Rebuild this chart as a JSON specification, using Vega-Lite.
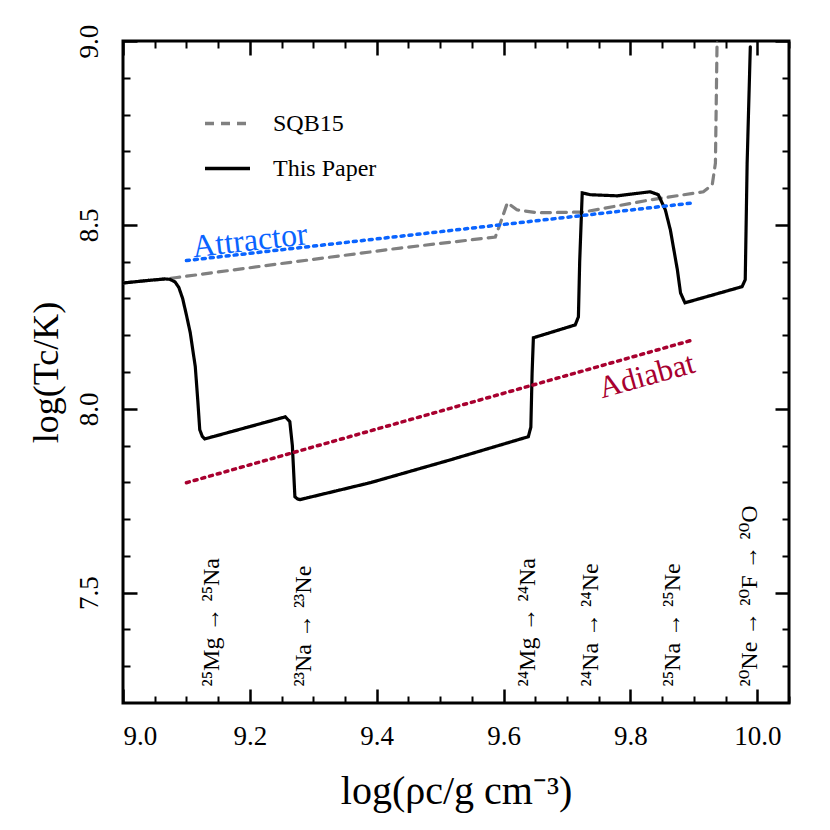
{
  "$schema": "https://vega.github.io/schema/vega-lite/v6.json",
  "width": 666,
  "height": 662,
  "autosize": {"type": "none"},
  "padding": {"left": 123, "top": 41, "right": 41, "bottom": 127},
  "background": "white",
  "config": {
    "view": {"stroke": "black", "strokeWidth": 3},
    "font": "Liberation Serif, serif",
    "text": {"font": "Liberation Serif, serif"},
    "legend": {"labelFont": "Liberation Serif, serif"},
    "axis": {
      "domain": false, "grid": false, "tickColor": "black", "labelColor": "black", "titleColor": "black",
      "labelFont": "Liberation Serif, serif", "titleFont": "Liberation Serif, serif", "titleFontWeight": "normal"
    }
  },
  "datasets": {
    "curves": [
      {"s": "SQB15", "x": 9.000, "y": 8.342},
      {"s": "SQB15", "x": 9.040, "y": 8.349},
      {"s": "SQB15", "x": 9.066, "y": 8.353},
      {"s": "SQB15", "x": 9.085, "y": 8.357},
      {"s": "SQB15", "x": 9.250, "y": 8.395},
      {"s": "SQB15", "x": 9.437, "y": 8.437},
      {"s": "SQB15", "x": 9.587, "y": 8.467},
      {"s": "SQB15", "x": 9.595, "y": 8.505},
      {"s": "SQB15", "x": 9.606, "y": 8.560},
      {"s": "SQB15", "x": 9.621, "y": 8.541},
      {"s": "SQB15", "x": 9.653, "y": 8.533},
      {"s": "SQB15", "x": 9.726, "y": 8.535},
      {"s": "SQB15", "x": 9.831, "y": 8.568},
      {"s": "SQB15", "x": 9.915, "y": 8.590},
      {"s": "SQB15", "x": 9.929, "y": 8.609},
      {"s": "SQB15", "x": 9.934, "y": 8.668},
      {"s": "SQB15", "x": 9.937, "y": 9.050},
      {"s": "This Paper", "x": 9.000, "y": 8.342},
      {"s": "This Paper", "x": 9.040, "y": 8.349},
      {"s": "This Paper", "x": 9.066, "y": 8.353},
      {"s": "This Paper", "x": 9.074, "y": 8.352},
      {"s": "This Paper", "x": 9.082, "y": 8.345},
      {"s": "This Paper", "x": 9.088, "y": 8.330},
      {"s": "This Paper", "x": 9.094, "y": 8.300},
      {"s": "This Paper", "x": 9.100, "y": 8.255},
      {"s": "This Paper", "x": 9.106, "y": 8.207},
      {"s": "This Paper", "x": 9.114, "y": 8.114},
      {"s": "This Paper", "x": 9.118, "y": 8.020},
      {"s": "This Paper", "x": 9.121, "y": 7.943},
      {"s": "This Paper", "x": 9.125, "y": 7.925},
      {"s": "This Paper", "x": 9.129, "y": 7.918},
      {"s": "This Paper", "x": 9.256, "y": 7.978},
      {"s": "This Paper", "x": 9.263, "y": 7.965},
      {"s": "This Paper", "x": 9.267, "y": 7.900},
      {"s": "This Paper", "x": 9.271, "y": 7.761},
      {"s": "This Paper", "x": 9.275, "y": 7.755},
      {"s": "This Paper", "x": 9.279, "y": 7.753},
      {"s": "This Paper", "x": 9.390, "y": 7.799},
      {"s": "This Paper", "x": 9.516, "y": 7.861},
      {"s": "This Paper", "x": 9.639, "y": 7.924},
      {"s": "This Paper", "x": 9.643, "y": 7.950},
      {"s": "This Paper", "x": 9.645, "y": 8.098},
      {"s": "This Paper", "x": 9.647, "y": 8.193},
      {"s": "This Paper", "x": 9.713, "y": 8.228},
      {"s": "This Paper", "x": 9.718, "y": 8.250},
      {"s": "This Paper", "x": 9.720, "y": 8.400},
      {"s": "This Paper", "x": 9.724, "y": 8.587},
      {"s": "This Paper", "x": 9.737, "y": 8.582},
      {"s": "This Paper", "x": 9.779, "y": 8.579},
      {"s": "This Paper", "x": 9.831, "y": 8.590},
      {"s": "This Paper", "x": 9.844, "y": 8.582},
      {"s": "This Paper", "x": 9.855, "y": 8.541},
      {"s": "This Paper", "x": 9.863, "y": 8.486},
      {"s": "This Paper", "x": 9.874, "y": 8.378},
      {"s": "This Paper", "x": 9.879, "y": 8.315},
      {"s": "This Paper", "x": 9.886, "y": 8.288},
      {"s": "This Paper", "x": 9.976, "y": 8.332},
      {"s": "This Paper", "x": 9.981, "y": 8.351},
      {"s": "This Paper", "x": 9.984, "y": 8.668},
      {"s": "This Paper", "x": 9.989, "y": 8.984}
    ],
    "attractor": [{"x": 9.1, "y": 8.403}, {"x": 9.9, "y": 8.560}],
    "adiabat": [{"x": 9.1, "y": 7.799}, {"x": 9.9, "y": 8.188}],
    "transitions": [
      {"label": "²⁵Mg  →  ²⁵Na", "x": 9.140},
      {"label": "²³Na  →  ²³Ne", "x": 9.285},
      {"label": "²⁴Mg  →  ²⁴Na", "x": 9.638},
      {"label": "²⁴Na  →  ²⁴Ne", "x": 9.738},
      {"label": "²⁵Na  →  ²⁵Ne", "x": 9.867},
      {"label": "²⁰Ne  →  ²⁰F  →  ²⁰O", "x": 9.989}
    ]
  },
  "resolve": {"axis": {"x": "independent", "y": "independent"}},
  "layer": [
    {
      "data": {"name": "curves"},
      "mark": {"type": "line", "strokeWidth": 3.2, "strokeCap": "round", "clip": true},
      "encoding": {
        "x": {"field": "x", "type": "quantitative", "scale": {"domain": [9.0, 10.05], "nice": false, "zero": false},
          "axis": {"orient": "bottom", "values": [9.0, 9.2, 9.4, 9.6, 9.8, 10.0], "format": ".1f", "tickSize": -14, "tickWidth": 2.5,
            "labelFont": "Liberation Serif, serif", "labelFontSize": 27, "labelPadding": 34,
            "title": "log(ρc/g cm⁻³)", "titleFont": "Liberation Serif, serif", "titleFontSize": 40, "titlePadding": 22}},
        "y": {"field": "y", "type": "quantitative", "scale": {"domain": [7.2, 9.0], "nice": false, "zero": false},
          "axis": {"orient": "left", "values": [7.5, 8.0, 8.5, 9.0], "format": ".1f", "tickSize": -14, "tickWidth": 2.5,
            "labelFont": "Liberation Serif, serif", "labelFontSize": 27, "labelAngle": -90, "labelPadding": 34, "labelAlign": "center", "labelBaseline": "bottom",
            "title": "log(Tc/K)", "titleFont": "Liberation Serif, serif", "titleFontSize": 36, "titlePadding": 10}},
        "color": {"field": "s", "type": "nominal", "scale": {"domain": ["SQB15", "This Paper"], "range": ["#808080", "#000000"]},
          "legend": {"orient": "none", "legendX": 80, "legendY": 58, "title": null, "symbolType": "stroke", "symbolSize": 2025,
            "symbolStrokeWidth": 3.5, "labelFontSize": 24, "labelFont": "Liberation Serif, serif", "labelOffset": 21, "rowPadding": 8, "padding": 0, "labelColor": "black"}},
        "strokeDash": {"field": "s", "type": "nominal", "scale": {"domain": ["SQB15", "This Paper"], "range": [[9, 7], [1, 0]]}}
      }
    },
    {
      "data": {"name": "attractor"},
      "mark": {"type": "line", "color": "#0a64ff", "strokeWidth": 3.5, "strokeDash": [3, 5], "strokeCap": "round"},
      "encoding": {
        "x": {"field": "x", "type": "quantitative", "axis": {"orient": "top", "values": [9.0, 9.2, 9.4, 9.6, 9.8, 10.0], "labels": false, "tickSize": -14, "tickWidth": 2.5, "title": null}},
        "y": {"field": "y", "type": "quantitative", "axis": {"orient": "right", "values": [7.5, 8.0, 8.5, 9.0], "labels": false, "tickSize": -14, "tickWidth": 2.5, "title": null}}
      }
    },
    {
      "data": {"name": "adiabat"},
      "mark": {"type": "line", "color": "#a8002f", "strokeWidth": 3.5, "strokeDash": [3, 5], "strokeCap": "round"},
      "encoding": {
        "x": {"field": "x", "type": "quantitative", "axis": {"orient": "bottom", "values": [9.05, 9.1, 9.15, 9.25, 9.3, 9.35, 9.45, 9.5, 9.55, 9.65, 9.7, 9.75, 9.85, 9.9, 9.95, 10.05], "labels": false, "tickSize": -7, "tickWidth": 2, "title": null}},
        "y": {"field": "y", "type": "quantitative", "axis": {"orient": "left", "values": [7.3, 7.4, 7.6, 7.7, 7.8, 7.9, 8.1, 8.2, 8.3, 8.4, 8.6, 8.7, 8.8, 8.9], "labels": false, "tickSize": -7, "tickWidth": 2, "title": null}}
      }
    },
    {
      "data": {"values": [{"label": "Attractor", "x": 9.2, "y": 8.457}]},
      "mark": {"type": "text", "color": "#0a64ff", "fontSize": 32, "font": "Liberation Serif, serif", "angle": -6.5, "align": "center", "baseline": "middle"},
      "encoding": {
        "x": {"field": "x", "type": "quantitative", "axis": {"orient": "top", "values": [9.05, 9.1, 9.15, 9.25, 9.3, 9.35, 9.45, 9.5, 9.55, 9.65, 9.7, 9.75, 9.85, 9.9, 9.95, 10.05], "labels": false, "tickSize": -7, "tickWidth": 2, "title": null}},
        "y": {"field": "y", "type": "quantitative", "axis": {"orient": "right", "values": [7.3, 7.4, 7.6, 7.7, 7.8, 7.9, 8.1, 8.2, 8.3, 8.4, 8.6, 8.7, 8.8, 8.9], "labels": false, "tickSize": -7, "tickWidth": 2, "title": null}},
        "text": {"field": "label"}
      }
    },
    {
      "data": {"values": [{"label": "Adiabat", "x": 9.826, "y": 8.088}]},
      "mark": {"type": "text", "color": "#a8002f", "fontSize": 31, "font": "Liberation Serif, serif", "angle": -15.5, "align": "center", "baseline": "middle"},
      "encoding": {
        "x": {"field": "x", "type": "quantitative", "axis": null},
        "y": {"field": "y", "type": "quantitative", "axis": null},
        "text": {"field": "label"}
      }
    },
    {
      "data": {"name": "transitions"},
      "mark": {"type": "text", "color": "black", "fontSize": 24, "font": "Liberation Serif, DejaVu Serif, serif", "angle": 270, "align": "left", "baseline": "middle"},
      "encoding": {
        "x": {"field": "x", "type": "quantitative", "axis": null},
        "y": {"datum": 7.245, "type": "quantitative", "axis": null},
        "text": {"field": "label"}
      }
    }
  ]
}
